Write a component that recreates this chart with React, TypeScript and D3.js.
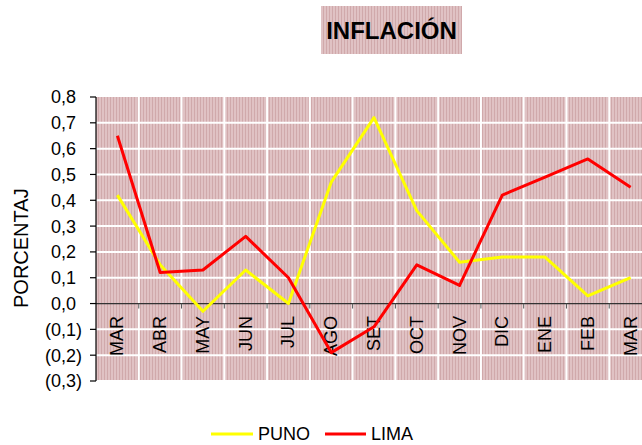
import React from "react";
import * as d3 from "d3";

const months = ["MAR", "ABR", "MAY", "JUN", "JUL", "AGO", "SET", "OCT", "NOV", "DIC", "ENE", "FEB", "MAR"];
const puno = [0.42, 0.15, -0.03, 0.13, 0.0, 0.47, 0.72, 0.36, 0.16, 0.18, 0.18, 0.03, 0.1];
const lima = [0.65, 0.12, 0.13, 0.26, 0.1, -0.19, -0.09, 0.15, 0.07, 0.42, 0.49, 0.56, 0.45];
const yTicks = [-0.3, -0.2, -0.1, 0, 0.1, 0.2, 0.3, 0.4, 0.5, 0.6, 0.7, 0.8];
const seriesNames = ["PUNO", "LIMA"];
const seriesColors = ["#ffff00", "#ff0000"];

const W = 642, H = 445;
const L = 96, R = 652, T = 97, B = 381;

export default function App() {
  const idx = months.map((_, i) => String(i));
  const x = d3.scaleBand<string>().domain(idx).range([L, R]).padding(0);
  const y = d3.scaleLinear().domain([-0.3, 0.8]).range([B, T]);
  const cx = (i: number) => (x(String(i)) as number) + x.bandwidth() / 2;
  const line = d3.line<number>().x((_, i) => cx(i)).y((d) => y(d));
  const fmt = (v: number) => {
    const s = Math.abs(v).toFixed(1).replace(".", ",");
    return v < 0 ? `(${s})` : s;
  };
  const font = "Arial, 'Liberation Sans', sans-serif";
  const boundaries = d3.range(months.length + 1).map((i) => L + i * x.bandwidth());
  return (
    <svg width={W} height={H} style={{ position: "absolute", left: 0, top: 0 }} fontFamily={font}>
      <defs>
        <pattern id="stripes" width={3} height={4} patternUnits="userSpaceOnUse">
          <rect width={3} height={4} fill="#e0c2c4" />
          <rect x={2} width={1} height={4} fill="#d0a9ab" />
        </pattern>
        <clipPath id="plotclip">
          <rect x={L} y={T} width={R - L} height={B - T} />
        </clipPath>
      </defs>
      <rect width={W} height={H} fill="#ffffff" />
      {/* title */}
      <rect x={321} y={6} width={141} height={48} fill="url(#stripes)" />
      <text x={391.5} y={39} textAnchor="middle" fontSize={24} fontWeight="bold" fill="#000">
        INFLACIÓN
      </text>
      {/* plot background */}
      <rect x={L} y={T} width={R - L} height={B - T} fill="url(#stripes)" />
      {/* gridlines */}
      {yTicks.filter((t) => t !== 0 && t !== 0.8).map((t) => (
        <line key={"h" + t} x1={L} x2={R} y1={y(t)} y2={y(t)} stroke="#ffffff" strokeWidth={2} />
      ))}
      {boundaries.slice(1).map((bx, i) => (
        <line key={"v" + i} x1={bx} x2={bx} y1={T} y2={B} stroke="#ffffff" strokeWidth={2} />
      ))}
      {/* zero axis */}
      <line x1={L} x2={R} y1={y(0)} y2={y(0)} stroke="#333" strokeWidth={1.2} />
      {boundaries.slice(1).map((bx, i) => (
        <line key={"zt" + i} x1={bx} x2={bx} y1={y(0)} y2={y(0) + 5} stroke="#555" strokeWidth={1} />
      ))}
      {/* y axis */}
      <line x1={L} x2={L} y1={T} y2={B} stroke="#000" strokeWidth={1.2} />
      {yTicks.map((t) => (
        <g key={"yt" + t}>
          <line x1={L - 6} x2={L} y1={y(t)} y2={y(t)} stroke="#000" strokeWidth={1.2} />
          <text x={t < 0 ? 82 : 76} y={y(t)} dy="0.36em" textAnchor="end" fontSize={18} fill="#000">
            {fmt(t)}
          </text>
        </g>
      ))}
      {/* category labels */}
      {months.map((m, i) => (
        <text key={"c" + i} transform={`translate(${cx(i) + 6},${316}) rotate(-90)`} textAnchor="end" fontSize={18} fill="#000">
          {m}
        </text>
      ))}
      {/* y title */}
      <text transform="translate(28,308) rotate(-90)" fontSize={20} fill="#000">PORCENTAJ</text>
      {/* series */}
      <g clipPath="url(#plotclip)">
        <path d={line(puno) as string} fill="none" stroke={seriesColors[0]} strokeWidth={3} strokeLinejoin="round" />
        <path d={line(lima) as string} fill="none" stroke={seriesColors[1]} strokeWidth={3} strokeLinejoin="round" />
      </g>
      {/* legend */}
      <line x1={211} x2={253} y1={434} y2={434} stroke={seriesColors[0]} strokeWidth={3} />
      <text x={258} y={440} fontSize={18} fill="#000">{seriesNames[0]}</text>
      <line x1={325} x2={366} y1={434} y2={434} stroke={seriesColors[1]} strokeWidth={3} />
      <text x={371} y={440} fontSize={18} fill="#000">{seriesNames[1]}</text>
    </svg>
  );
}
